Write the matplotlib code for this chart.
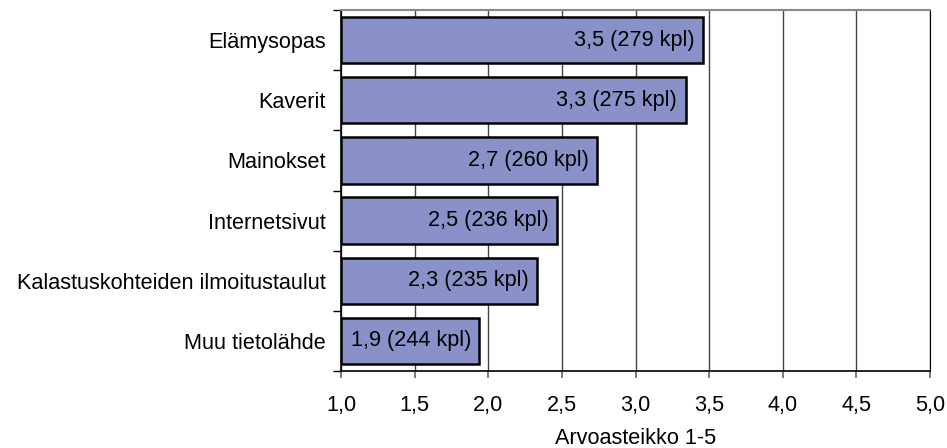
import matplotlib
matplotlib.use('Agg')
import matplotlib.pyplot as plt
from matplotlib.ticker import FixedLocator
import numpy as np

plt.rcParams['font.family'] = ['Liberation Sans', 'DejaVu Sans']

categories = ["Elämysopas", "Kaverit", "Mainokset", "Internetsivut",
              "Kalastuskohteiden ilmoitustaulut", "Muu tietolähde"]
means = [3.46, 3.34, 2.74, 2.47, 2.33, 1.94]
counts = [279, 275, 260, 236, 235, 244]
xticks = [1.0, 1.5, 2.0, 2.5, 3.0, 3.5, 4.0, 4.5, 5.0]

fs = 15.6
fig = plt.figure(figsize=(9.47, 4.48), dpi=100)
ax = fig.add_axes([341 / 947, 1 - 371 / 448, (930 - 341) / 947, (371 - 10) / 448])

y = np.arange(len(categories))
ax.barh(y, [m - 1 for m in means], left=1, height=0.77, color='#8a91c8',
        edgecolor='black', linewidth=1.8, zorder=3)

for yi, m, c in zip(y, means, counts):
    lbl = f"{m:.1f} ({c} kpl)".replace('.', ',')
    ax.annotate(lbl, (m, yi), xytext=(-6, 0), textcoords='offset points',
                ha='right', va='center', fontsize=fs, zorder=4)

ax.set_xlim(1, 5)
ax.set_ylim(len(categories) - 0.5, -0.5)
ax.set_xticks(xticks)
ax.set_xticklabels([f"{t:.1f}".replace('.', ',') for t in xticks], fontsize=fs)
ax.set_yticks(y)
ax.set_yticklabels(categories, fontsize=fs)
ax.yaxis.set_minor_locator(FixedLocator(np.arange(-0.5, len(categories), 1)))
ax.tick_params(axis='y', which='major', length=0, pad=11)
ax.tick_params(axis='y', which='minor', length=6, width=1, color='black')
ax.tick_params(axis='x', length=5, width=1.2, color='#666666', pad=12)

ax.grid(axis='x', color='#444444', linewidth=1, zorder=0)
ax.set_axisbelow(True)
ax.spines['top'].set_color('#888888')
ax.spines['top'].set_linewidth(1.5)
ax.spines['right'].set_color('black')
ax.spines['left'].set_linewidth(1.2)
ax.spines['bottom'].set_linewidth(1.2)

ax.set_xlabel("Arvoasteikko 1-5", fontsize=fs, labelpad=9)

fig.savefig("out.png", dpi=100)
